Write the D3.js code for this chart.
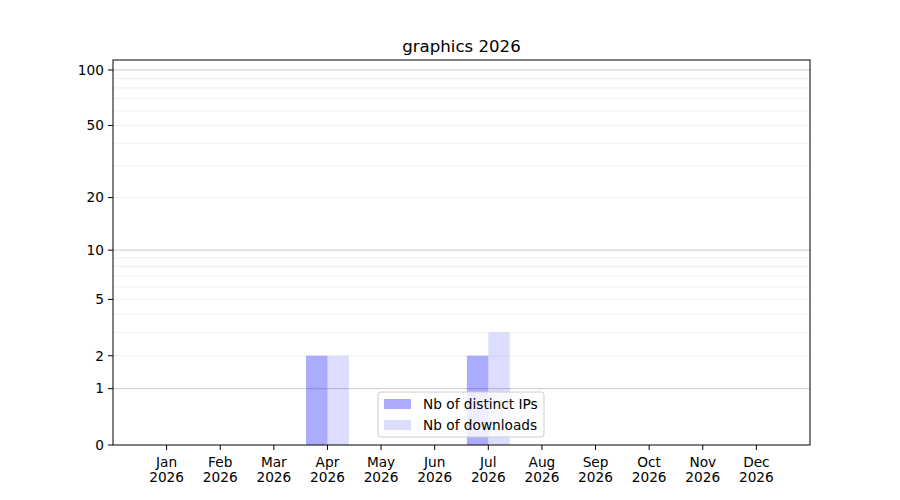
<!DOCTYPE html>
<html>
<head>
<meta charset="utf-8">
<script src="https://cdn.jsdelivr.net/npm/d3@7"></script>
<style>
  body { margin: 0; background: #fff; }
  text { font-family: "DejaVu Sans", sans-serif; fill: #000; }
</style>
</head>
<body>
<svg id="chart" width="900" height="500"></svg>
<script>
const months = ['Jan', 'Feb', 'Mar', 'Apr', 'May', 'Jun', 'Jul', 'Aug', 'Sep', 'Oct', 'Nov', 'Dec'];
const year = '2026';
const distinctIPs = [0, 0, 0, 2, 0, 0, 2, 0, 0, 0, 0, 0];
const downloads = [0, 0, 0, 2, 0, 0, 3, 0, 0, 0, 0, 0];
const yTicks = [0, 1, 2, 5, 10, 20, 50, 100];
const majorGrid = [1, 10, 100];
const minorGrid = [2, 3, 4, 5, 6, 7, 8, 9, 20, 30, 40, 50, 60, 70, 80, 90];

const svg = d3.select('#chart');
const mLeft = 113, mRight = 810, mTop = 60, mBottom = 445;
const fs = '13.7px';

let x = d3.scaleLinear().domain([0, 13]).range([mLeft, mRight]);
// log(1 + v) scale, like matplotlib's function scale
let ylog = d3.scaleLog().domain([1, 114.2]).range([mBottom, mTop]);
let y = v => ylog(1 + v);
let bw = 0.4;

// grid
svg.append('g').selectAll('line.minor').data(minorGrid).enter().append('line')
    .attr('x1', mLeft).attr('x2', mRight)
    .attr('y1', d => y(d)).attr('y2', d => y(d))
    .attr('stroke', '#ebebeb').attr('stroke-width', 0.8);
svg.append('g').selectAll('line.major').data(majorGrid).enter().append('line')
    .attr('x1', mLeft).attr('x2', mRight)
    .attr('y1', d => y(d)).attr('y2', d => y(d))
    .attr('stroke', '#cccccc').attr('stroke-width', 1);

// bars
let bars = svg.append('g');
bars.selectAll('rect.ips').data(distinctIPs).enter().append('rect')
    .attr('x', (d, i) => x(i + 1 - bw))
    .attr('width', x(bw) - x(0))
    .attr('y', d => y(d))
    .attr('height', d => y(0) - y(d))
    .attr('fill', 'rgba(0,0,255,0.33)');
bars.selectAll('rect.dl').data(downloads).enter().append('rect')
    .attr('x', (d, i) => x(i + 1))
    .attr('width', x(bw) - x(0))
    .attr('y', d => y(d))
    .attr('height', d => y(0) - y(d))
    .attr('fill', 'rgba(0,0,255,0.135)');

// frame
svg.append('rect')
    .attr('x', mLeft).attr('y', mTop)
    .attr('width', mRight - mLeft).attr('height', mBottom - mTop)
    .attr('fill', 'none').attr('stroke', '#000').attr('stroke-width', 1);

// y axis
let yg = svg.append('g');
yg.selectAll('line').data(yTicks).enter().append('line')
    .attr('x1', mLeft - 5).attr('x2', mLeft)
    .attr('y1', d => y(d)).attr('y2', d => y(d))
    .attr('stroke', '#000');
yg.selectAll('text').data(yTicks).enter().append('text')
    .attr('x', mLeft - 9).attr('y', d => y(d))
    .attr('dy', '0.35em')
    .attr('text-anchor', 'end')
    .style('font-size', fs)
    .text(d => d);

// x axis
let xg = svg.append('g');
xg.selectAll('line').data(months).enter().append('line')
    .attr('x1', (d, i) => x(i + 1)).attr('x2', (d, i) => x(i + 1))
    .attr('y1', mBottom).attr('y2', mBottom + 5)
    .attr('stroke', '#000');
let xl = xg.selectAll('text').data(months).enter().append('text')
    .attr('text-anchor', 'middle')
    .style('font-size', fs);
xl.append('tspan').attr('x', (d, i) => x(i + 1)).attr('y', 467).text(d => d);
xl.append('tspan').attr('x', (d, i) => x(i + 1)).attr('y', 482).text(year);

// title
svg.append('text')
    .attr('x', (mLeft + mRight) / 2).attr('y', 52)
    .attr('text-anchor', 'middle')
    .style('font-size', '16.6px')
    .text('graphics ' + year);

// legend, lower center
let lg = svg.append('g').attr('transform', 'translate(378 392)');
lg.append('rect')
    .attr('width', 166).attr('height', 45)
    .attr('rx', 3)
    .attr('fill', 'rgba(255,255,255,0.8)')
    .attr('stroke', '#cccccc');
let items = [
    { name: 'Nb of distinct IPs', color: 'rgba(0,0,255,0.33)' },
    { name: 'Nb of downloads', color: 'rgba(0,0,255,0.135)' },
];
let li = lg.selectAll('g.item').data(items).enter().append('g')
    .attr('transform', (d, i) => `translate(0 ${i * 21})`);
li.append('rect')
    .attr('x', 6).attr('y', 7).attr('width', 27).attr('height', 10)
    .attr('fill', d => d.color);
li.append('text')
    .attr('x', 45).attr('y', 12).attr('dy', '0.35em')
    .style('font-size', fs)
    .text(d => d.name);
</script>
</body>
</html>
